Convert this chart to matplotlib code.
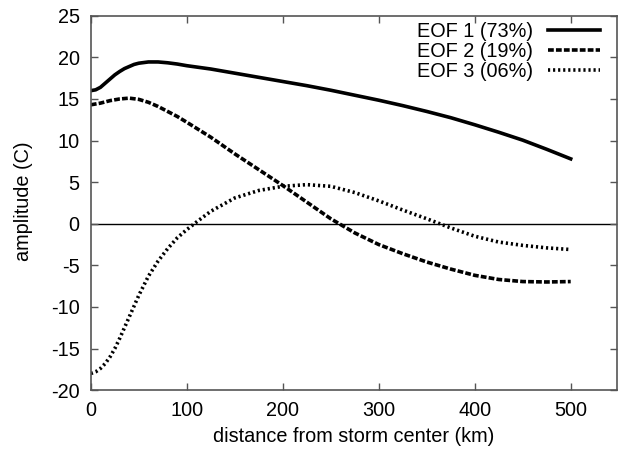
import matplotlib
matplotlib.use('Agg')
import matplotlib.pyplot as plt

# distance from storm center (km)
dist1 = [0, 5, 10, 15, 20, 25, 30, 35, 40, 45, 50, 60, 70, 80, 90, 100, 125, 150,
         175, 200, 225, 250, 275, 300, 325, 350, 375, 400, 425, 450, 475, 500]
eof1 = [16.0, 16.1, 16.4, 16.9, 17.4, 17.9, 18.3, 18.65, 18.9, 19.15, 19.3, 19.45,
        19.45, 19.35, 19.2, 19.0, 18.6, 18.1, 17.6, 17.1, 16.6, 16.05, 15.45, 14.85,
        14.2, 13.5, 12.75, 11.9, 11.0, 10.05, 8.95, 7.8]

dist2 = [0, 10, 20, 30, 40, 50, 60, 70, 80, 90, 100, 125, 150, 175, 200, 225, 250,
         275, 300, 325, 350, 375, 400, 425, 450, 475, 500]
eof2 = [14.3, 14.5, 14.8, 15.0, 15.1, 14.95, 14.6, 14.1, 13.5, 12.9, 12.2, 10.4,
        8.4, 6.5, 4.6, 2.6, 0.6, -1.1, -2.5, -3.6, -4.6, -5.45, -6.2, -6.7, -6.95,
        -7.0, -6.95]

dist3 = [0, 5, 10, 15, 20, 25, 30, 35, 40, 45, 50, 60, 70, 80, 90, 100, 110, 125,
         150, 175, 200, 225, 250, 275, 300, 325, 350, 375, 400, 425, 450, 475, 500]
eof3 = [-18.0, -17.8, -17.4, -16.8, -16.0, -15.0, -13.8, -12.5, -11.2, -9.9, -8.6,
        -6.3, -4.5, -3.0, -1.7, -0.7, 0.2, 1.5, 3.1, 4.0, 4.5, 4.7, 4.5, 3.75, 2.75,
        1.65, 0.6, -0.5, -1.5, -2.2, -2.6, -2.9, -3.1]

labels = ['EOF 1 (73%)', 'EOF 2 (19%)', 'EOF 3 (06%)']

plt.rcParams['font.family'] = ['Liberation Sans', 'DejaVu Sans']
plt.rcParams['font.size'] = 14.3
plt.rcParams['axes.unicode_minus'] = False

fig = plt.figure(figsize=(6.18, 4.51), dpi=100)
ax = fig.add_axes([0.147, 0.135, 0.851, 0.83])

ax.axhline(0, color='black', lw=1.0, zorder=1)
ax.plot(dist1, eof1, color='black', lw=2.6, ls='-', label=labels[0])
ax.plot(dist2, eof2, color='black', lw=2.6, ls=(0, (1.6, 0.6)), label=labels[1])
ax.plot(dist3, eof3, color='black', lw=2.6, ls=(0, (0.6, 0.8)), label=labels[2])

ax.set_xlim(0, 548)
ax.set_ylim(-20, 25)
ax.set_xticks([0, 100, 200, 300, 400, 500])
ax.set_yticks(range(-20, 26, 5))
ax.tick_params(direction='in', top=True, right=True, length=5, width=1,
               color='#555555', pad=8)
for s in ax.spines.values():
    s.set_color('#555555')
    s.set_linewidth(1.2)

ax.set_xlabel('distance from storm center (km)')
ax.set_ylabel('amplitude (C)')
ax.yaxis.set_label_coords(-0.110, 0.505)
ax.xaxis.set_label_coords(0.5, -0.098)

leg = ax.legend(loc='upper right', frameon=False, markerfirst=False,
                handlelength=2.6, handletextpad=0.75, labelspacing=0.05,
                borderaxespad=0.2, bbox_to_anchor=(0.99, 1.015))

fig.savefig('out.png', dpi=100)
